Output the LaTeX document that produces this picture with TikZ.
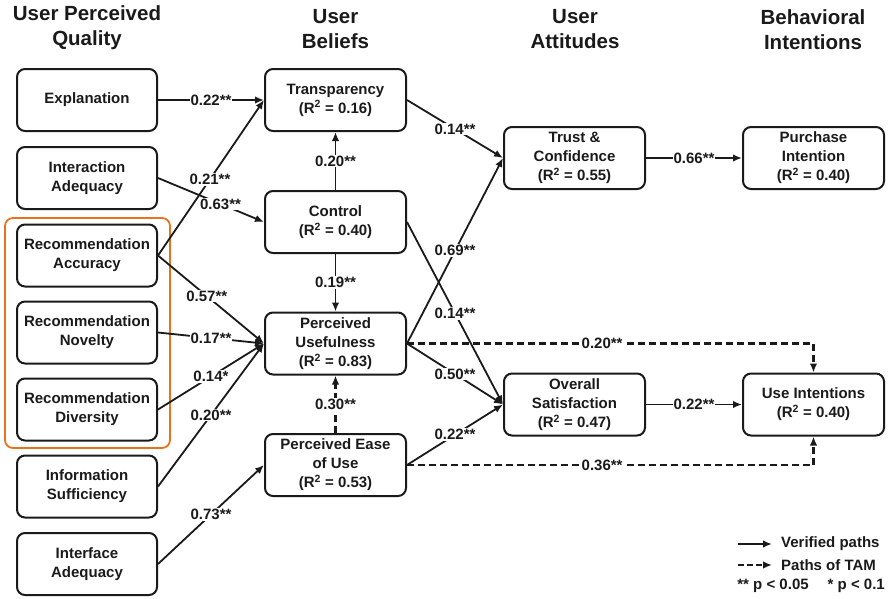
\documentclass[tikz,border=0pt]{standalone}
\usepackage{fontspec}
\setmainfont{Liberation Sans}
\usetikzlibrary{arrows.meta}
\definecolor{grporange}{HTML}{E8731E}
\definecolor{ink}{HTML}{1A1A1A}
\begin{document}
\begin{tikzpicture}[x=1pt,y=-1pt,
  box/.style={draw=ink, line width=2pt, rounded corners=8pt, minimum width=141pt, minimum height=62pt, align=center, font=\fontsize{15}{19}\selectfont\bfseries, inner sep=2pt, text=ink},
  hdr/.style={align=center, font=\fontsize{20.5}{25}\selectfont\bfseries, text=ink},
  lbl/.style={fill=white, inner sep=1pt, font=\fontsize{15}{18}\selectfont\bfseries, text=ink},
  lgd/.style={inner sep=0pt, font=\fontsize{15}{18}\selectfont\bfseries, text=ink},
  pth/.style={draw=ink, line width=1.8pt, -{Latex[length=9pt,width=7.5pt]}},
  tam/.style={draw=ink, line width=2.3pt, dash pattern=on 7pt off 4pt, -{Latex[length=9pt,width=7.5pt]}},
  grp/.style={draw=grporange, line width=1.8pt, rounded corners=8pt, minimum width=165pt, minimum height=230pt, inner sep=0pt}
]
\useasboundingbox (0,0) rectangle (891,598);

% headers
\node[hdr] (h1) at (87,27.5) {User Perceived\\Quality};
\node[hdr] (h2) at (335.5,29.5) {User\\Beliefs};
\node[hdr] (h3) at (575,29.5) {User\\Attitudes};
\node[hdr] (h4) at (813,29.5) {Behavioral\\Intentions};

% group
\node[grp] (grp) at (87.5,333) {};

% left column
\node[box, minimum width=140pt] (ex) at (87,100) {Explanation};
\node[box, minimum width=140pt] (ia) at (87,178) {Interaction\\Adequacy};
\node[box, minimum width=140pt] (ra) at (87,255.5) {Recommendation\\Accuracy};
\node[box, minimum width=140pt] (rn) at (87,332.5) {Recommendation\\Novelty};
\node[box, minimum width=140pt] (rd) at (87,409.5) {Recommendation\\Diversity};
\node[box, minimum width=140pt] (is) at (87,486.5) {Information\\Sufficiency};
\node[box, minimum width=140pt] (ifa) at (87,564) {Interface\\Adequacy};

% beliefs
\node[box] (tr) at (335.5,100) {Transparency\\(R\textsuperscript{2} = 0.16)};
\node[box] (co) at (335.5,222) {Control\\(R\textsuperscript{2} = 0.40)};
\node[box] (pu) at (335.5,343.5) {Perceived\\Usefulness\\(R\textsuperscript{2} = 0.83)};
\node[box] (pe) at (335.5,465) {Perceived Ease\\of Use\\(R\textsuperscript{2} = 0.53)};

% attitudes
\node[box] (tc) at (574.5,158) {Trust \&\\Confidence\\(R\textsuperscript{2} = 0.55)};
\node[box] (os) at (574.5,404.5) {Overall\\Satisfaction\\(R\textsuperscript{2} = 0.47)};

% intentions
\node[box] (pi) at (813.5,158) {Purchase\\Intention\\(R\textsuperscript{2} = 0.40)};
\node[box] (ui) at (813.5,404.5) {Use Intentions\\(R\textsuperscript{2} = 0.40)};

% paths from quality
\draw[pth] (ex.east) -- node[lbl]{0.22**} (tr.west);
\draw[pth] (ra.east) -- node[lbl,pos=0.49]{0.21**} (tr.west);
\draw[pth] (ia.east) -- node[lbl,pos=0.59]{0.63**} (co.west);
\draw[pth] (ra.east) -- node[lbl,pos=0.46]{0.57**} (pu.west);
\draw[pth] (rn.east) -- node[lbl]{0.17**} (pu.west);
\draw[pth] (rd.east) -- node[lbl]{0.14*} (pu.west);
\draw[pth] (is.east) -- node[lbl]{0.20**} (pu.west);
\draw[pth] (ifa.east) -- node[lbl]{0.73**} (pe.west);

% within beliefs
\draw[pth] (co.north) -- node[lbl]{0.20**} (tr.south);
\draw[pth] (co.south) -- node[lbl]{0.19**} (pu.north);
\draw[tam] (pe.north) -- node[lbl]{0.30**} (pu.south);

% beliefs to attitudes
\draw[pth] (tr.east) -- node[lbl]{0.14**} (tc.west);
\draw[pth] (pu.east) -- node[lbl]{0.69**} (tc.west);
\draw[pth] (co.east) -- node[lbl]{0.14**} (os.west);
\draw[pth] (pu.east) -- node[lbl]{0.50**} (os.west);
\draw[pth] (pe.east) -- node[lbl]{0.22**} (os.west);

% attitudes to intentions
\draw[pth] (tc.east) -- node[lbl]{0.66**} (pi.west);
\draw[pth] (os.east) -- node[lbl]{0.22**} (ui.west);

% TAM paths
\draw[tam] (pu.east) -| node[lbl,pos=0.24]{0.20**} (ui.north);
\draw[tam] (pe.east) -| node[lbl,pos=0.24]{0.36**} (ui.south);

% legend
\coordinate (la1) at (738,544);
\coordinate (lb1) at (772,544);
\coordinate (la2) at (738,565);
\coordinate (lb2) at (772,565);
\draw[pth] (la1) -- (lb1);
\draw[tam, dash pattern=on 6pt off 3pt] (la2) -- (lb2);
\node[lgd, anchor=west] (lt1) at (781,544) {Verified paths};
\node[lgd, anchor=west] (lt2) at (781,565) {Paths of TAM};
\node[lgd, anchor=east] (lt3) at (885,586) {** p < 0.05\hspace{19pt}* p < 0.1};
\end{tikzpicture}
\end{document}
